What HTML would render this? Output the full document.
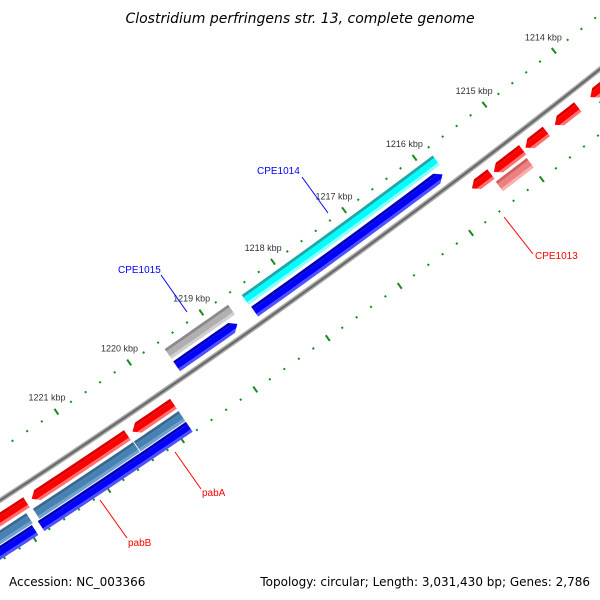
<!DOCTYPE html>
<html><head><meta charset="utf-8"><style>
html,body{margin:0;padding:0;background:#fff;width:600px;height:600px;overflow:hidden;}
svg{display:block;}
text{font-family:"Liberation Sans",sans-serif;}
</style></head><body>
<svg id="map" width="600" height="600" viewBox="0 0 600 600" xmlns="http://www.w3.org/2000/svg">
<defs id="defs"></defs>
<rect x="0" y="0" width="600" height="600" fill="#fff"/>
<text x="300" y="23" text-anchor="middle" font-size="14" font-style="italic" fill="#000" style="font-family:'DejaVu Sans',sans-serif">Clostridium perfringens str. 13, complete genome</text>
<g id="ticks"></g>
<g id="backbone"></g>
<g id="feats"></g>
<g id="tlabels"></g>
<g>
<line x1="302" y1="177" x2="328" y2="213" stroke="#00f" stroke-width="1"/>
<text x="257" y="174" font-size="10" fill="#00f">CPE1014</text>
<line x1="161" y1="275" x2="187" y2="312" stroke="#00f" stroke-width="1"/>
<text x="118" y="273" font-size="10" fill="#00f">CPE1015</text>
<line x1="504" y1="217" x2="533" y2="254" stroke="#f00" stroke-width="1"/>
<text x="535" y="259" font-size="10" fill="#f00">CPE1013</text>
<line x1="175" y1="452" x2="201" y2="489" stroke="#f00" stroke-width="1"/>
<text x="202" y="496" font-size="10" fill="#f00">pabA</text>
<line x1="100" y1="500" x2="127" y2="538" stroke="#f00" stroke-width="1"/>
<text x="128" y="546" font-size="10" fill="#f00">pabB</text>
</g>
<text x="9" y="586" font-size="12" fill="#000" style="font-family:'DejaVu Sans',sans-serif">Accession: NC_003366</text>
<text x="590" y="586" font-size="12" text-anchor="end" fill="#000" style="font-family:'DejaVu Sans',sans-serif">Topology: circular; Length: 3,031,430 bp; Genes: 2,786</text>
</svg>
<script>
// ---- data ----
const tickLabelKbp = [1214, 1215, 1216, 1217, 1218, 1219, 1220, 1221];
const featStart  = [1215.82, 1215.86, 1218.70, 1218.74, 1213.0, 1213.0, 1214.18, 1214.63, 1214.97, 1215.42, 1214.99, 1219.85, 1220.48, 1221.85, 1219.85, 1220.47, 1221.92, 1219.85, 1221.94];
const featEnd    = [1218.51, 1218.50, 1219.58, 1219.58, 1214.00, 1213.96, 1214.51, 1214.93, 1215.38, 1215.69, 1215.43, 1220.41, 1221.78, 1223.5, 1220.46, 1221.83, 1223.5, 1221.86, 1223.5];
const featRow    = [-28, -13, -28, -13, 16, 31, 16, 16, 16, 16, 31, 16, 16, 16, 31, 31, 31, 44, 44];
const featArrow  = [0, -1, 0, -1, 1, 0, 1, 1, 1, 1, 0, 1, 1, 1, 0, 0, 0, 0, 0];
const featType   = ["cyan","blue","gray","blue","red","cyan","red","red","red","red","pink","red","red","red","steel","steel","steel","blue","blue"];

// ---- geometry ----
const R = 8000, U = [0.811, -0.585], N = [0.585, 0.811];
const C = [90*U[0] + (415-R)*N[0], 90*U[1] + (415-R)*N[1]];
function along(k){ return 156.5 - (k-1217)*88.3; }
function pt(k, delta){
  const th = (along(k)-90)/R, r = R+delta;
  const s = Math.sin(th), c = Math.cos(th);
  return [C[0] + r*(s*U[0]+c*N[0]), C[1] + r*(s*U[1]+c*N[1])];
}
const NS = "http://www.w3.org/2000/svg";
function mk(tag, attrs, parent){
  const e = document.createElementNS(NS, tag);
  for (const k in attrs) e.setAttribute(k, attrs[k]);
  parent.appendChild(e); return e;
}
function arcPts(k1,k2,d,n){ const a=[]; for(let i=0;i<=n;i++){a.push(pt(k1+(k2-k1)*i/n,d));} return a; }
function toD(ps){ return "M"+ps.map(p=>p[0].toFixed(2)+","+p[1].toFixed(2)).join("L")+"Z"; }

// ---- ticks ----
const tg = document.getElementById("ticks");
for (let i = 0; i <= 60; i++){
  const k = 1212 + i*0.2;
  const major = Math.abs(k - Math.round(k)) < 1e-6;
  [-43, 51].forEach(function(d){
    let a, b;
    if (major){ a = pt(k, d-3.5); b = pt(k, d+3.5); }
    else { a = pt(k, d-1); b = pt(k, d+1); }
    const l = mk("line",{x1:a[0],y1:a[1],x2:b[0],y2:b[1],stroke:"#1a8a1a","stroke-width":2},tg);
    
    
  });
}
const lg = document.getElementById("tlabels");
tickLabelKbp.forEach(function(k){
  const p = pt(k, -60);
  const t = mk("text",{x:p[0],y:p[1]+3,"text-anchor":"middle","font-size":"9",fill:"#333"},lg);
  t.textContent = k + " kbp";
  
  
});

// ---- backbone ----
const bg = document.getElementById("backbone");
const bb = arcPts(1211, 1224.5, 0, 40);
const bd = "M"+bb.map(p=>p[0].toFixed(2)+","+p[1].toFixed(2)).join("L");
const b1 = mk("path",{d:bd,fill:"none",stroke:"#aaa","stroke-width":5},bg);


const b2 = mk("path",{d:bd,fill:"none",stroke:"#666","stroke-width":2},bg);



// ---- features ----
const colors = {
  red:["#d80000","#ff0000","#ff7070"],
  blue:["#0000b8","#0000ff","#5050ff"],
  cyan:["#20a8a8","#00ffff","#90ffff"],
  gray:["#8a8a8a","#b0b0b0","#d0d0d0"],
  pink:["#d06060","#f08080","#f8b0b0"],
  steel:["#3a6890","#4682b4","#70a0cc"]
};
const fg = document.getElementById("feats");
const defs = document.getElementById("defs");
const H = 6, AH = 0.08;
for (let i = 0; i < featStart.length; i++){
  const k1 = featStart[i], k2 = featEnd[i], d = featRow[i], ar = featArrow[i];
  let ps = [];
  if (ar === -1){
    const kb = Math.min(k1+AH, k2);
    ps = ps.concat(arcPts(kb,k2,d-H,16));
    ps = ps.concat(arcPts(k2,kb,d+H,16));
    ps.push(pt(k1,d));
  } else if (ar === 1){
    const kb = Math.max(k2-AH, k1);
    ps = ps.concat(arcPts(k1,kb,d-H,16));
    ps.push(pt(k2,d));
    ps = ps.concat(arcPts(kb,k1,d+H,16));
  } else {
    ps = ps.concat(arcPts(k1,k2,d-H,16));
    ps = ps.concat(arcPts(k2,k1,d+H,16));
  }
  const cp = mk("clipPath",{id:"cp"+i},defs);
  mk("path",{d:toD(ps)},cp);
  const g = mk("g",{"clip-path":"url(#cp"+i+")"},fg);
  
  
  const col = colors[featType[i]];
  const bands = [[d-H-1,d-H+3,col[0]],[d-H+3,d+H-3,col[1]],[d+H-3,d+H+1,col[2]]];
  bands.forEach(function(b){
    const sp = arcPts(k1-0.01,k2+0.01,b[0],16).concat(arcPts(k2+0.01,k1-0.01,b[1],16));
    const s = mk("path",{d:toD(sp),fill:b[2]},g);
    
    
  });
}
</script>
</body></html>
